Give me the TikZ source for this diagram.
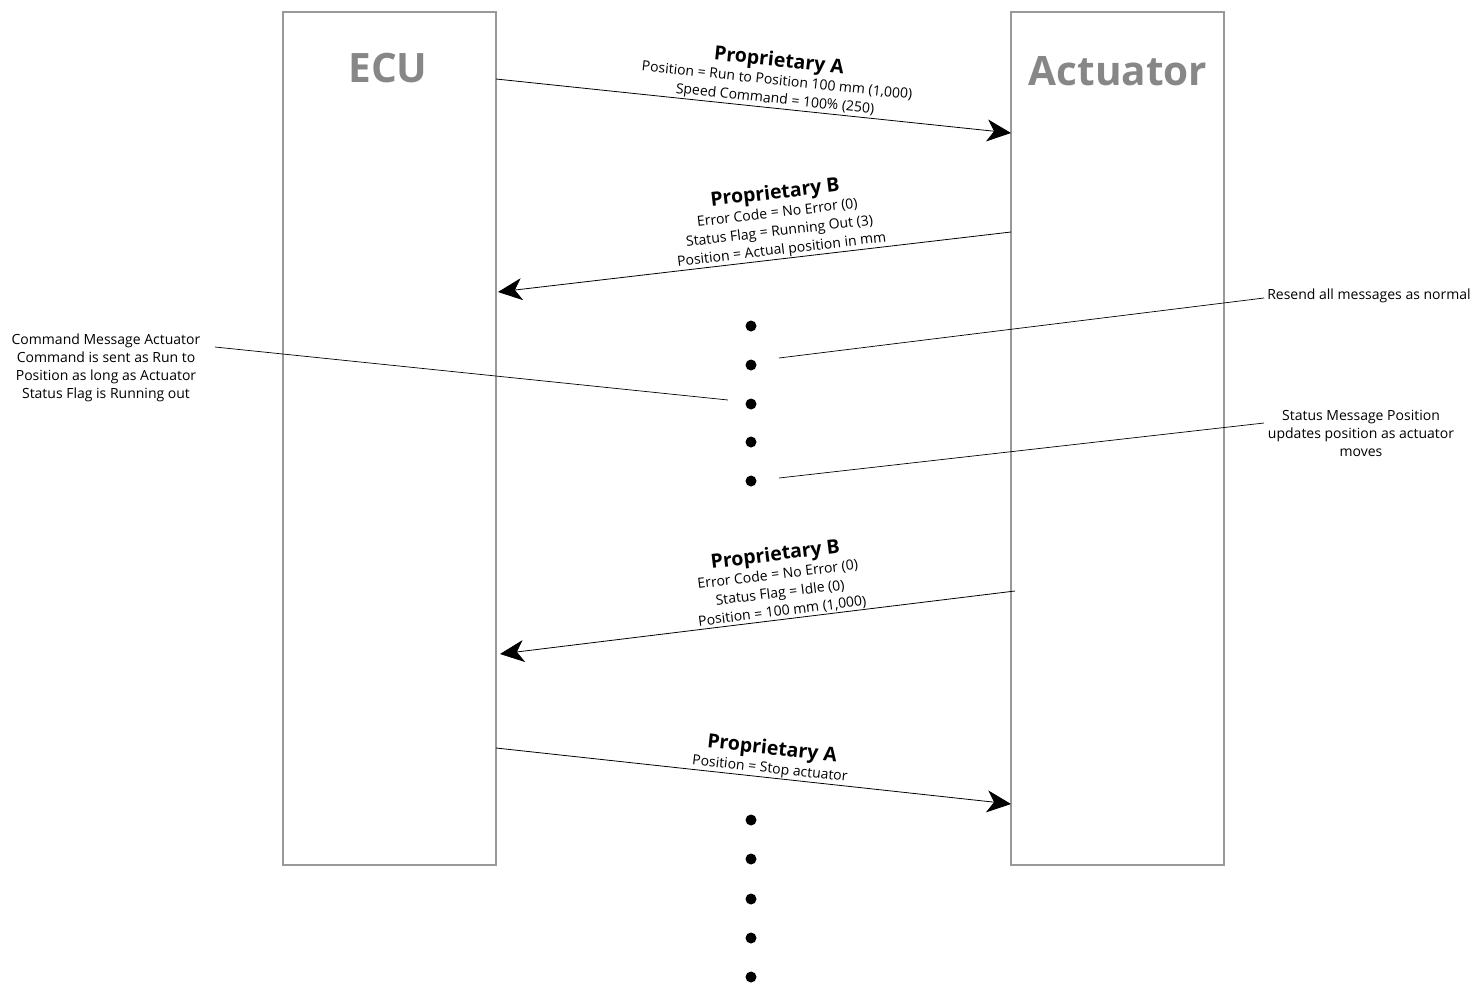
\documentclass[tikz,border=0pt]{standalone}
\usepackage{fontspec}
\setmainfont{Open Sans}
\usetikzlibrary{arrows.meta}
\newcommand{\msgtitlefont}{\fontsize{19.5}{21}\selectfont\bfseries}
\begin{document}
\begin{tikzpicture}[x=1pt,y=-1pt,
  lifebox/.style={draw=black!40, line width=1.2pt, minimum width=213pt, minimum height=853pt, inner sep=0pt},
  boxtitle/.style={font=\fontsize{40.5}{44}\selectfont\bfseries, text=black!47},
  msg/.style={-{Stealth[length=24pt,width=22pt,inset=7pt]}, line width=0.8pt},
  msglabel/.style={font=\fontsize{14}{18.5}\selectfont, align=center, inner sep=1pt},
  note/.style={font=\fontsize{14}{18}\selectfont, align=center, inner sep=0pt},
  callout/.style={line width=0.7pt},
  dot/.style={circle, fill=black, minimum size=11pt, inner sep=0pt}]
\useasboundingbox (0,0) rectangle (1475,985);

% lifelines
\node[lifebox] (ecu) at (389.5,438.5) {};
\node[lifebox] (act) at (1117.5,438.5) {};
\node[boxtitle] (ecut) at (388,68) {ECU};
\node[boxtitle] (actt) at (1118,71) {Actuator};

% message end points on the box edges
\coordinate (m1s) at (496,79);
\coordinate (m1e) at (1011,133);
\coordinate (m2s) at (1011,232);
\coordinate (m2e) at (498,292);
\coordinate (m3s) at (1015,591);
\coordinate (m3e) at (500,654);
\coordinate (m4s) at (496,748);
\coordinate (m4e) at (1011,804);

\draw[msg] (m1s) -- (m1e) node[msglabel, pos=0.54, sloped, above]
  {{\msgtitlefont Proprietary A}\\Position = Run to Position 100 mm (1,000)\\Speed Command = 100\% (250)};
\draw[msg] (m2s) -- (m2e) node[msglabel, pos=0.445, sloped, above]
  {{\msgtitlefont Proprietary B}\\Error Code = No Error (0)\\Status Flag = Running Out (3)\\Position = Actual position in mm};
\draw[msg] (m3s) -- (m3e) node[msglabel, pos=0.45, sloped, above]
  {{\msgtitlefont Proprietary B}\\Error Code = No Error (0)\\Status Flag = Idle (0)\\Position = 100 mm (1,000)};
\draw[msg] (m4s) -- (m4e) node[msglabel, pos=0.53, sloped, above]
  {{\msgtitlefont Proprietary A}\\Position = Stop actuator};

% repeated messages
\foreach \i/\y in {1/326,2/365,3/404,4/442,5/481}
  \node[dot] (d\i) at (751,\y) {};
\foreach \i/\y in {1/820,2/859,3/899,4/938,5/977}
  \node[dot] (e\i) at (751,\y) {};

% notes
\node[note] (n1) at (106,368) {Command Message Actuator\\Command is sent as Run to\\Position as long as Actuator\\Status Flag is Running out};
\node[note] (n2) at (1369,296) {Resend all messages as normal};
\node[note] (n3) at (1361,433) {Status Message Position\\updates position as actuator\\moves};

\coordinate (c1a) at (215,347);
\coordinate (c1b) at (728,400);
\coordinate (c2a) at (1264,298);
\coordinate (c2b) at (779,358);
\coordinate (c3a) at (1264,423);
\coordinate (c3b) at (779,478);
\draw[callout] (c1a) -- (c1b);
\draw[callout] (c2a) -- (c2b);
\draw[callout] (c3a) -- (c3b);
\end{tikzpicture}
\end{document}
